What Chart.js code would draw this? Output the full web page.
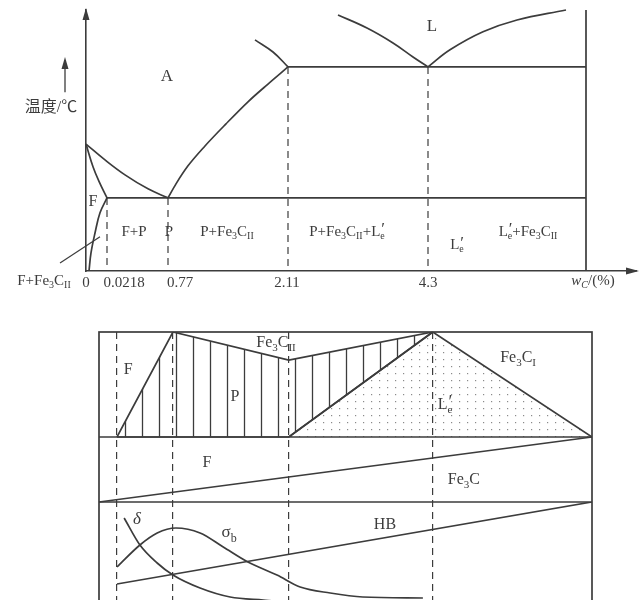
<!DOCTYPE html>
<html>
<head>
<meta charset="utf-8">
<script src="https://cdn.jsdelivr.net/npm/chart.js@4.4.1/dist/chart.umd.min.js"></script>
<style>
  html, body { margin: 0; padding: 0; background: #fff; width: 640px; height: 600px; overflow: hidden; }
  canvas { position: absolute; left: 0; }
  #top { top: 0; }
  #bottom { top: 300px; }
</style>
</head>
<body>
<canvas id="top" width="640" height="300"></canvas>
<canvas id="bottom" width="640" height="320"></canvas>
<script>
// --- data -------------------------------------------------------------
// the diagram is schematic: x runs 0..100 from pure Fe to the 6.69 %C edge
const keyComp = ["0", "0.0218", "0.77", "2.11", "4.3"];
const topKeyX = [0, 4.2, 16.4, 40.4, 68.4];
const topTickX = [0, 7.6, 18.8, 40.2, 68.4]; // label centres under the axis
const botKeyX = [0, 3.65, 15.0, 38.5, 67.7];

// phase diagram lines, [x, temperature °C]
const lineGS = [[0, 900], [3.8, 849], [7.8, 801], [12.4, 756], [16.4, 727]];
const lineGP = [[0, 900], [1.4, 827], [2.6, 780], [4.2, 727]];
const linePQ = [[4.2, 727], [2.8, 679], [1.8, 614], [1.0, 550], [0.6, 492]];
const lineES = [[16.4, 727], [18.0, 772], [20.4, 830], [23.8, 894], [28.0, 965], [32.4, 1036], [36.4, 1093], [40.4, 1148]];
const lineAE = [[33.8, 1235], [37.4, 1196], [40.4, 1148]];
const lineBC = [[50.4, 1315], [56.2, 1273], [61.4, 1225], [65.4, 1180], [68.4, 1148]];
const lineCD = [[68.4, 1148], [72.8, 1203], [79.4, 1261], [86.2, 1299], [96, 1331]];
const eutectic = [[40.4, 1148], [100, 1148]];
const eutectoid = [[4.2, 727], [100, 727]];
const rightEdge = [[100, 1331], [100, 492]];
const alloyTop = [727, 727, 1148, 1148]; // start temperature of each dashed alloy line
const leader = [[-5.2, 518], [2.8, 602]];

// relative amounts (%) of constituents
const pearliteTop = [[3.65, 0], [15.0, 100], [38.5, 73.3], [67.7, 100]];
const pearliteLow = [[3.65, 0], [38.5, 0], [67.7, 100]];
const ledeburite = [[38.5, 0], [67.7, 100], [100, 0]];
// relative amount of phases
const cementite = [[0, 0], [100, 100]];
// properties, relative
const hb = [[3.65, 28], [100, 110]];
const sigmaB = [[3.65, 45], [8.3, 67], [11.8, 79], [15.6, 84], [20.5, 79], [25.2, 65], [30.2, 50], [36.1, 37], [40.8, 25], [46.9, 19], [53.5, 15], [65.7, 14]];
const delta = [[5.1, 94], [8.3, 67], [11.8, 49], [15.0, 37], [20.5, 24], [26.6, 15], [33.3, 12], [38.7, 10], [47, 6]];

// --- drawing helpers ---------------------------------------------------
const INK = "#3c3c3c";
const FAM = '"Liberation Serif", "Noto Sans CJK SC", serif';
const pts = (a) => a.map(([x, y]) => ({ x, y }));

function parseRich(s) {
  const out = [];
  const re = /_\{([^}]*)\}|\^\{([^}]*)\}|\*([^*]+)\*|([^_^*]+)/g;
  let m;
  while ((m = re.exec(s))) {
    if (m[1] !== undefined) out.push({ t: m[1].replace(/\*/g, ""), k: "sub", it: m[1].includes("*") });
    else if (m[2] !== undefined) out.push({ t: m[2], k: "sup" });
    else if (m[3] !== undefined) out.push({ t: m[3], k: "n", it: true });
    else out.push({ t: m[4], k: "n" });
  }
  return out;
}

function drawRich(ctx, s, x, y, size) {
  const parts = parseRich(s);
  const font = (p) => (p.it ? "italic " : "") +
    Math.round(p.k === "n" ? size : p.k === "sup" ? size * 1.15 : size * 0.68) + "px " + FAM;
  let w = 0;
  const pos = [];
  for (let i = 0; i < parts.length; i++) {
    const p = parts[i];
    ctx.font = font(p);
    const pw = ctx.measureText(p.t).width;
    const q = parts[i + 1];
    if (p.k === "sup" && q && q.k === "sub") {
      ctx.font = font(q);
      const qw = ctx.measureText(q.t).width;
      pos.push([w + 1, p], [w, q]);
      w += Math.max(pw, qw);
      i++;
    } else {
      pos.push([w, p]);
      w += pw;
    }
  }
  ctx.save();
  ctx.fillStyle = INK;
  ctx.textBaseline = "middle";
  ctx.textAlign = "left";
  const x0 = x - w / 2;
  for (const [dx, p] of pos) {
    ctx.font = font(p);
    const dy = p.k === "sub" ? size * 0.32 : p.k === "sup" ? -size * 0.12 : 0;
    ctx.fillText(p.t, x0 + dx, y + dy);
  }
  ctx.restore();
}

function arrowHead(ctx, x, y, dir) {
  ctx.save();
  ctx.fillStyle = INK;
  ctx.beginPath();
  if (dir === "up") {
    ctx.moveTo(x, y); ctx.lineTo(x - 3.5, y + 12); ctx.lineTo(x + 3.5, y + 12);
  } else {
    ctx.moveTo(x, y); ctx.lineTo(x - 13, y - 3.5); ctx.lineTo(x - 13, y + 3.5);
  }
  ctx.closePath();
  ctx.fill();
  ctx.restore();
}

function hatchPattern() {
  const c = document.createElement("canvas");
  c.width = 17; c.height = 17;
  const g = c.getContext("2d");
  g.strokeStyle = INK; g.lineWidth = 1.3;
  g.beginPath(); g.moveTo(6.5, 0); g.lineTo(6.5, 17); g.stroke();
  return g.createPattern(c, "repeat");
}

function dotPattern() {
  const c = document.createElement("canvas");
  c.width = 8; c.height = 7;
  const g = c.getContext("2d");
  g.fillStyle = "#8a8a8a";
  g.fillRect(3, 3, 1.2, 1.2);
  return g.createPattern(c, "repeat");
}

const solid = (data, extra) => Object.assign({
  data: pts(data), borderColor: INK, borderWidth: 1.7, pointRadius: 0, fill: false, tension: 0, clip: false
}, extra || {});
const curve = (data) => solid(data, { tension: 0.4 });
const smooth = (data) => solid(data, { cubicInterpolationMode: "monotone" });
const dashed = (x, t) => solid([[x, t], [x, 492]], { borderWidth: 1.2, borderDash: [7, 5] });

const hidden = (extra) => Object.assign({
  display: true, position: "right", ticks: { display: false }, grid: { display: false },
  border: { display: false }, afterFit: (s) => { s.width = 0; }
}, extra);

// --- top: phase diagram --------------------------------------------------
const topLabels = [
  ["A", 16.2, 1116, 17], ["L", 69.2, 1277, 17], ["F", 1.4, 714, 16],
  ["F+P", 9.6, 618, 15], ["P", 16.6, 618, 15], ["P+Fe_{3}C_{II}", 28.2, 618, 15],
  ["P+Fe_{3}C_{II}+L^{′}_{e}", 52.2, 618, 15], ["L^{′}_{e}", 74.2, 576, 15],
  ["L^{′}_{e}+Fe_{3}C_{II}", 88.4, 618, 15], ["F+Fe_{3}C_{II}", -8.4, 460, 15],
  ["*w*_{*C*}/(%)", 101.4, 460, 15], ["温度/℃", -7.0, 1016, 16]
];

new Chart(document.getElementById("top"), {
  type: "line",
  data: {
    datasets: [
      curve(lineGS), curve(lineGP), curve(linePQ), smooth(lineES), curve(lineAE),
      curve(lineBC), curve(lineCD), solid(eutectic), solid(eutectoid), solid(rightEdge),
      solid(leader, { borderWidth: 1.2 }),
      ...topKeyX.slice(1).map((x, i) => dashed(x, alloyTop[i]))
    ]
  },
  options: {
    responsive: false,
    animation: false,
    devicePixelRatio: 1,
    layout: { padding: { left: 86, top: 10, right: 4, bottom: 0 } },
    plugins: { legend: { display: false }, tooltip: { enabled: false } },
    scales: {
      x: {
        type: "linear", min: 0, max: 110,
        afterFit: (s) => { s.height = 29; },
        afterBuildTicks: (s) => { s.ticks = topTickX.map((v) => ({ value: v })); },
        grid: { display: false, drawTicks: false },
        border: { display: true, color: INK, width: 1.6 },
        ticks: {
          autoSkip: false, maxRotation: 0, padding: 3, color: INK,
          font: { family: FAM, size: 15 },
          callback: (v, i) => keyComp[i]
        }
      },
      y: {
        type: "linear", min: 492, max: 1331,
        afterFit: (s) => { s.width = 0; },
        ticks: { display: false },
        grid: { display: false, drawTicks: false },
        border: { display: true, color: INK, width: 1.6 }
      }
    }
  },
  plugins: [{
    id: "topDecor",
    afterDraw(chart) {
      const { ctx, chartArea: a, scales: { x, y } } = chart;
      arrowHead(ctx, a.left, a.top - 2, "up");
      arrowHead(ctx, a.right + 3, a.bottom, "right");
      // small temperature arrow beside the axis title
      const ax = x.getPixelForValue(-4.2);
      ctx.save();
      ctx.strokeStyle = INK; ctx.lineWidth = 1.3;
      ctx.beginPath();
      ctx.moveTo(ax, y.getPixelForValue(1067));
      ctx.lineTo(ax, y.getPixelForValue(1170));
      ctx.stroke();
      ctx.restore();
      arrowHead(ctx, ax, y.getPixelForValue(1180), "up");
      for (const [t, vx, vy, size] of topLabels) {
        drawRich(ctx, t, x.getPixelForValue(vx), y.getPixelForValue(vy), size);
      }
    }
  }]
});

// --- bottom: amounts of constituents / phases and properties -------------
const botLabels = [
  ["F", 5.9, 64, 16, "y"], ["P", 27.6, 38, 16, "y"], ["Fe_{3}C_{II}", 35.9, 89.5, 16, "y"],
  ["L^{′}_{e}", 70.2, 30.5, 16, "y"], ["Fe_{3}C_{I}", 85, 75, 16, "y"],
  ["F", 21.9, 60, 16, "y2"], ["Fe_{3}C", 74, 34, 16, "y2"],
  ["*δ*", 7.7, 92, 17, "y3"], ["σ_{b}", 26.4, 79, 17, "y3"], ["HB", 58, 87, 16, "y3"]
];

new Chart(document.getElementById("bottom"), {
  type: "line",
  data: {
    datasets: [
      solid(pearliteTop, { yAxisID: "y", fill: 1, backgroundColor: hatchPattern(), clip: true }),
      solid(pearliteLow, { yAxisID: "y" }),
      solid(ledeburite, { yAxisID: "y", fill: "origin", backgroundColor: dotPattern(), clip: true }),
      solid(cementite, { yAxisID: "y2" }),
      solid(hb, { yAxisID: "y3", clip: true }),
      solid(sigmaB, { yAxisID: "y3", cubicInterpolationMode: "monotone", clip: true }),
      solid(delta, { yAxisID: "y3", cubicInterpolationMode: "monotone", clip: true })
    ]
  },
  options: {
    responsive: false,
    animation: false,
    devicePixelRatio: 1,
    layout: { padding: { left: 99, top: 32, right: 48, bottom: 8 } },
    plugins: { legend: { display: false }, tooltip: { enabled: false } },
    scales: {
      x: {
        type: "linear", min: 0, max: 100,
        afterFit: (s) => { s.height = 0; },
        afterBuildTicks: (s) => { s.ticks = botKeyX.slice(1).map((v) => ({ value: v })); },
        ticks: { display: false },
        grid: { display: true, drawTicks: false, color: INK, lineWidth: 1.2, borderDash: [7, 5] },
        border: { display: false, dash: [7, 5] }
      },
      y: hidden({ min: 0, max: 100, stack: "p", stackWeight: 105 }),
      y2: hidden({ min: 0, max: 100, stack: "p", stackWeight: 65 }),
      y3: hidden({ min: 0, max: 110, stack: "p", stackWeight: 110 })
    }
  },
  plugins: [{
    id: "botDecor",
    afterDraw(chart) {
      const { ctx, chartArea: a, scales } = chart;
      ctx.save();
      ctx.strokeStyle = INK; ctx.lineWidth = 1.7;
      ctx.strokeRect(a.left, a.top, a.right - a.left, a.bottom - a.top);
      ctx.beginPath();
      for (const id of ["y2", "y3"]) {
        ctx.moveTo(a.left, scales[id].top);
        ctx.lineTo(a.right, scales[id].top);
      }
      ctx.stroke();
      ctx.restore();
      for (const [t, vx, vy, size, id] of botLabels) {
        drawRich(ctx, t, scales.x.getPixelForValue(vx), scales[id].getPixelForValue(vy), size);
      }
    }
  }]
});
</script>
</body>
</html>
